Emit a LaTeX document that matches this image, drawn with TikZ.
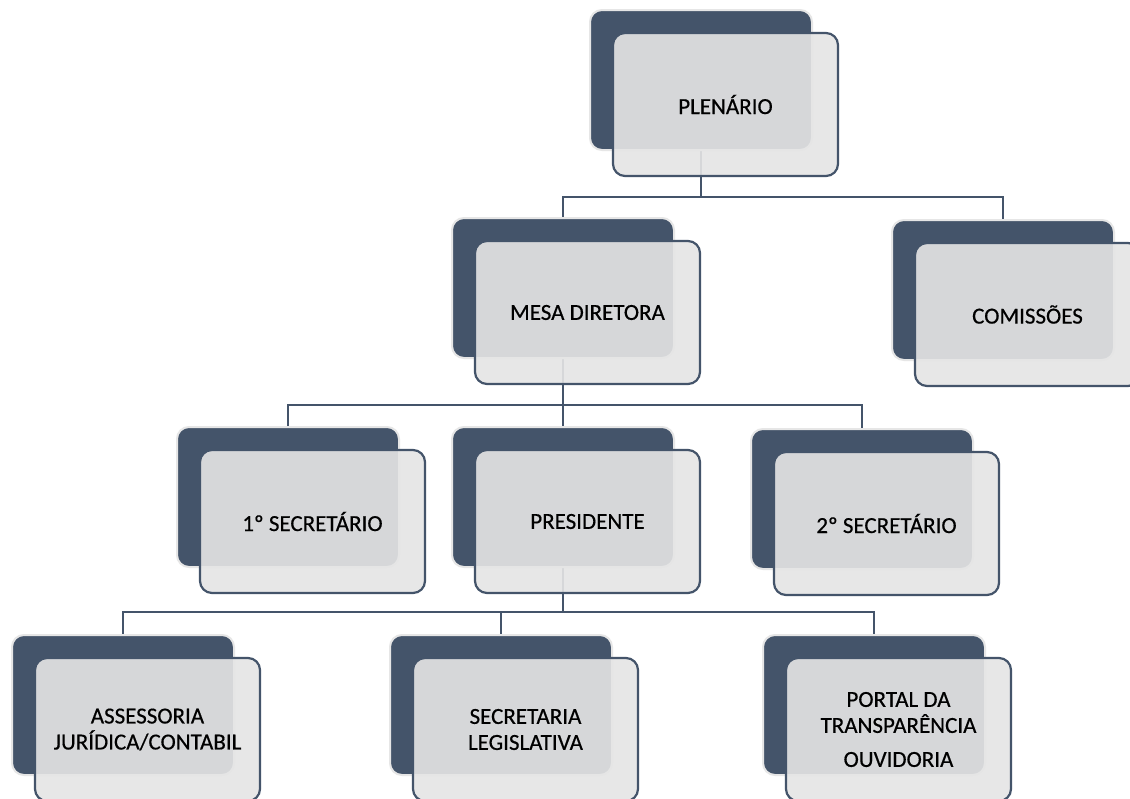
\documentclass[tikz,border=0pt]{standalone}
\usepackage{fontspec}
\setmainfont{Carlito}
\newfontfamily\boxfont{Carlito}[FakeBold=0.5]
\usetikzlibrary{backgrounds}
\definecolor{boxdark}{HTML}{44546A}
\definecolor{boxlight}{HTML}{E5E5E5}
\definecolor{boxrim}{HTML}{E6E6E6}
\tikzset{
  backbox/.style={rectangle, rounded corners=12pt, fill=boxdark, draw=boxrim,
    line width=2pt, minimum width=222pt, minimum height=140pt, outer sep=0pt,
    anchor=north west},
  frontbox/.style={rectangle, rounded corners=12pt, fill=boxlight,
    fill opacity=0.91, text opacity=1, draw=boxdark, line width=2.2pt,
    minimum width=225pt, minimum height=143pt, outer sep=0pt,
    anchor=north west, align=center,
    font=\boxfont\fontsize{23}{26}\selectfont},
  link/.style={draw=boxdark, line width=2pt}
}
\newcommand{\OrgBox}[3]{%
  \node[backbox] (#1) at (#2) {};
  \node[frontbox] (#1front) at ([shift={(23,23)}]#1.north west) {#3};
}

\begin{document}
\begin{tikzpicture}[x=1pt,y=-1pt]
    \path[use as bounding box] (0,0) rectangle (1130,798);
    \clip (0,0) rectangle (1130,798);
    \OrgBox{plen}{590,10}{PLENÁRIO}
    \OrgBox{mesa}{452,218}{MESA DIRETORA}
    \OrgBox{com}{892,220}{COMISSÕES}
    \OrgBox{secA}{177,427}{1º SECRETÁRIO}
    \OrgBox{pres}{452,427}{PRESIDENTE}
    \OrgBox{secB}{751,429}{2º SECRETÁRIO}
    \OrgBox{ass}{12,635}{ASSESSORIA\\JURÍDICA/CONTABIL}
    \OrgBox{secl}{390,635}{SECRETARIA\\LEGISLATIVA}
    \OrgBox{port}{763,635}{PORTAL DA\\TRANSPARÊNCIA\\[8pt]OUVIDORIA}
    \begin{pgfonlayer}{background}
        \fill[white] (0,0) rectangle (1130,798);
        \draw[link] (plen.south) -- ++(0,47) -| (mesa.north);
        \draw[link] (plen.south) -- ++(0,47) -| (com.north);
        \draw[link] (mesa.south) -- ++(0,47) -| (secA.north);
        \draw[link] (mesa.south) -- ++(0,47) -| (pres.north);
        \draw[link] (mesa.south) -- ++(0,47) -| (secB.north);
        \draw[link] (pres.south) -- ++(0,45) -| (ass.north);
        \draw[link] (pres.south) -- ++(0,45) -| (secl.north);
        \draw[link] (pres.south) -- ++(0,45) -| (port.north);
    \end{pgfonlayer}
\end{tikzpicture}
\end{document}
